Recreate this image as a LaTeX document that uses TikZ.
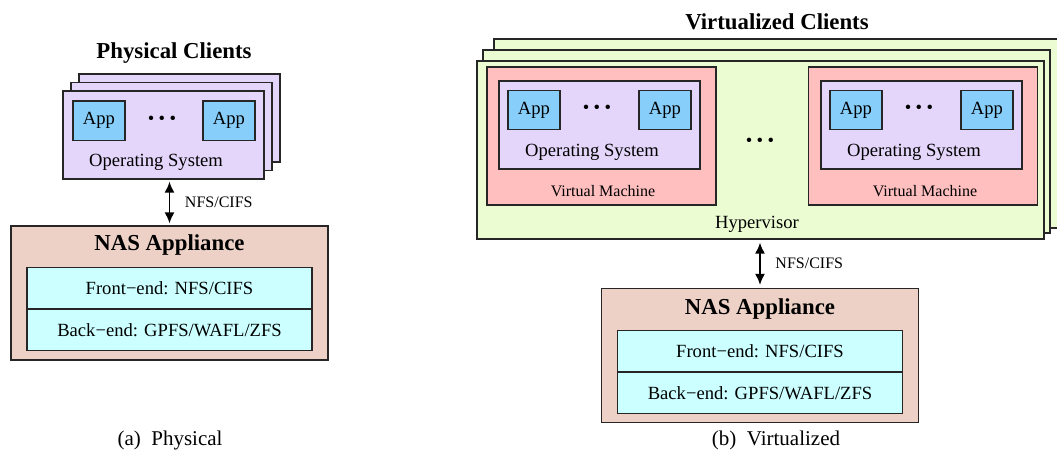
\documentclass[tikz,border=0pt]{standalone}
\usepackage{fontspec}
\setmainfont{Liberation Serif}
\usetikzlibrary{arrows.meta,positioning}
\definecolor{clientc}{RGB}{228,214,250}
\definecolor{appc}{RGB}{135,206,250}
\definecolor{vmc}{RGB}{255,191,191}
\definecolor{hyperc}{RGB}{235,252,211}
\definecolor{nasc}{RGB}{237,209,198}
\definecolor{rowc}{RGB}{204,255,255}
\newcommand{\bdots}{\textbullet\hspace{2.2pt}\textbullet\hspace{2.2pt}\textbullet}

\begin{document}
\begin{tikzpicture}[x=0.5pt,y=-0.5pt,>={Latex[length=5.5pt,width=5pt]},line width=0.65pt,
  every node/.style={font=\fontsize{9.3}{11}\selectfont},
  box/.style={draw=black!85,rectangle,inner sep=0pt},
  client/.style={box,fill=clientc,minimum width=100.5pt,minimum height=44pt},
  app/.style={box,fill=appc,minimum width=26pt,minimum height=19.75pt},
  vm/.style={box,fill=vmc,minimum width=114.5pt,minimum height=69pt},
  hyper/.style={box,fill=hyperc,minimum width=283.5pt,minimum height=89pt},
  nas/.style={box,fill=nasc,minimum width=158.5pt,minimum height=67pt},
  row/.style={box,fill=rowc,minimum width=142.5pt,minimum height=20.5pt},
  title/.style={font=\fontsize{11.4}{13}\selectfont\bfseries},
  small/.style={font=\fontsize{8}{10}\selectfont},
  caption/.style={font=\fontsize{10.5}{12}\selectfont}]
  \clip (0,0) rectangle (1057,461);

  \node[title] (t_phys) at (174,53) {Physical Clients};
  \node[client] (pc_3) at (179.5,118) {};
  \node[client] (pc_2) at (171.5,126.5) {};
  \node[client] (pc_1) at (163.5,135) {};
  \node[app] (app_1) [below right=5pt and 5pt of pc_1.north west, anchor=north west] {App};
  \node[app] (app_2) [below left=5pt and 4.5pt of pc_1.north east, anchor=north east] {App};
  \node (dots_1) at (162,120.5) {\bdots};
  \node (os_1) at (156,162) {Operating System};

  \node[nas] (nas_1) at (169.5,293) {};
  \node[title] (nt_1) at (169.5,245) {NAS Appliance};
  \node[row] (fe_1) at (169.5,288) {Front\textminus end: NFS/CIFS};
  \node[row] (be_1) [below=0pt of fe_1] {Back\textminus end: GPFS/WAFL/ZFS};

  \path[<->,line width=0.8pt] (nas_1.north |- pc_1.south) edge[shorten <=1pt,shorten >=1pt] node[small,right=4pt,midway] {NFS/CIFS} (nas_1.north);

  \node[title] (t_virt) at (777,22) {Virtualized Clients};
  \node[hyper,minimum height=94.5pt] (hv_3) at (777.5,133.5) {};
  \node[hyper,minimum height=91.5pt] (hv_2) at (766.5,141.5) {};
  \node[hyper] (hv_1) at (760.5,150) {};
  \node (hv_label) at (757,224) {Hypervisor};

  \node[vm] (vm_1) at (601.5,136) {};
  \node[vm] (vm_2) at (923,136) {};
  \node[small] (vm_label1) at (603,191) {Virtual Machine};
  \node[small] (vm_label2) at (925,191) {Virtual Machine};
  \node[client] (os_box1) at (599.5,125) {};
  \node[client] (os_box2) at (921.5,125) {};
  \node[app] (app_3) at (534,110) {App};
  \node[app] (app_4) at (665,110) {App};
  \node[app] (app_5) at (856,110) {App};
  \node[app] (app_6) at (987,110) {App};
  \node (dots_2) at (597,109) {\bdots};
  \node (dots_3) at (919,109) {\bdots};
  \node (dots_4) at (760,142) {\bdots};
  \node (os_2) at (592,152) {Operating System};
  \node (os_3) at (914,152) {Operating System};

  \node[nas] (nas_2) at (760,355.5) {};
  \node[title] (nt_2) at (760,309) {NAS Appliance};
  \node[row] (fe_2) at (760,351) {Front\textminus end: NFS/CIFS};
  \node[row] (be_2) [below=0pt of fe_2] {Back\textminus end: GPFS/WAFL/ZFS};

  \path[<->,line width=0.8pt] (nas_2.north |- hv_1.south) edge[shorten <=1.5pt,shorten >=1.5pt] node[small,right=4pt,midway] {NFS/CIFS} (nas_2.north);

  \node[caption] (cap_a) at (170,440) {(a)\enspace Physical};
  \node[caption] (cap_b) at (776,440) {(b)\enspace Virtualized};
\end{tikzpicture}
\end{document}
